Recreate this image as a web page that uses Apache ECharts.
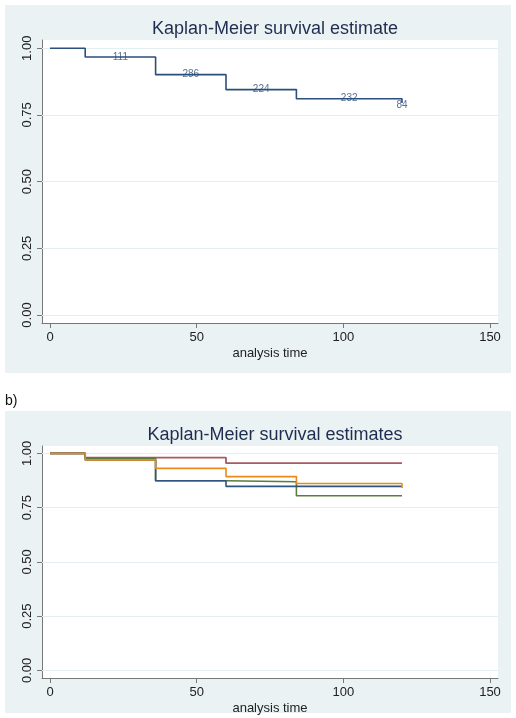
<!DOCTYPE html>
<html><head><meta charset="utf-8">
<script src="https://cdn.jsdelivr.net/npm/echarts@6/dist/echarts.min.js"></script>
<style>html,body{margin:0;padding:0;background:#fff}#c{width:516px;height:718px}</style>
</head><body><div id="c"></div>
<script>
// ---- data ----
const times = [0, 12, 36, 60, 84, 120];
const survAll = [1, 0.9675, 0.901, 0.845, 0.811, 0.795];
const atRiskTimes = [24, 48, 72, 102, 120];
const atRiskPos = [0.9675, 0.901, 0.845, 0.811, 0.788];
const atRiskLabels = ['111', '286', '224', '232', '84'];
const survBlue = [1, 0.97, 0.874, 0.848, 0.848, 0.848];
const survRed = [1, 0.98, 0.98, 0.955, 0.955, 0.955];
const survGreen = [1, 0.978, 0.874, 0.869, 0.805, 0.805];
const survOrange = [1, 0.97, 0.931, 0.893, 0.861, 0.84];
const xTicks = [0, 50, 100, 150];
const yTicks = [0, 0.25, 0.5, 0.75, 1];
const titleA = 'Kaplan-Meier survival estimate';
const titleB = 'Kaplan-Meier survival estimates';
const xName = 'analysis time';
const panelLabel = 'b)';

const FONT = 'Liberation Sans, Arial, Helvetica, sans-serif';
const BG = '#eaf2f3';
const pts = (ys) => times.map((t, i) => [t, ys[i]]);

function xAx(gi) {
  return {
    gridIndex: gi, type: 'value', min: -2.73, max: 152.73,
    name: xName, nameLocation: 'middle', nameGap: 24,
    nameTextStyle: {fontFamily: FONT, fontSize: 13, color: '#222'},
    axisLine: {show: true, onZero: false, lineStyle: {color: '#777', width: 1}},
    axisTick: {show: true, length: 5, customValues: xTicks, lineStyle: {color: '#777'}},
    axisLabel: {customValues: xTicks, margin: 8, fontFamily: FONT, fontSize: 13, color: '#222'},
    splitLine: {show: false}
  };
}
function yAx(gi, mn, mx) {
  return {
    gridIndex: gi, type: 'value', min: mn, max: mx,
    axisLine: {show: true, onZero: false, lineStyle: {color: '#777', width: 1}},
    axisTick: {show: true, length: 5, customValues: yTicks, lineStyle: {color: '#777'}},
    axisLabel: {customValues: yTicks, rotate: 90, margin: 8, fontFamily: FONT, fontSize: 13, color: '#222',
      formatter: v => v.toFixed(2)},
    splitLine: {show: false}
  };
}
function gridLines(xi, yi) {
  return {
    type: 'line', xAxisIndex: xi, yAxisIndex: yi, data: [], silent: true, z: 1,
    markLine: {silent: true, z: 1, symbol: 'none', label: {show: false},
      lineStyle: {color: '#e3eef0', width: 1.2, type: 'solid'},
      data: yTicks.map(v => ({yAxis: v}))}
  };
}
function km(xi, yi, ys, color, w) {
  return {type: 'line', xAxisIndex: xi, yAxisIndex: yi, step: 'end', data: pts(ys),
    showSymbol: false, symbol: 'none', lineStyle: {color: color, width: w || 1.6}, z: 6};
}

const chart = echarts.init(document.getElementById('c'), null, {renderer: 'canvas'});
chart.setOption({
  animation: false,
  backgroundColor: '#fff',
  graphic: [
    {type: 'rect', shape: {x: 5, y: 5, width: 506, height: 368}, style: {fill: BG}, z: -10},
    {type: 'rect', shape: {x: 5, y: 411, width: 506, height: 302}, style: {fill: BG}, z: -10},
    {type: 'text', left: 5, top: 394, style: {text: panelLabel, font: '14px ' + FONT, fill: '#111'}}
  ],
  title: [
    {text: titleA, left: 270, top: 15, textAlign: 'center',
      textStyle: {fontFamily: FONT, fontSize: 18, fontWeight: 'normal', color: '#1e2d4f'}},
    {text: titleB, left: 270, top: 421, textAlign: 'center',
      textStyle: {fontFamily: FONT, fontSize: 18, fontWeight: 'normal', color: '#1e2d4f'}}
  ],
  grid: [
    {left: 42, top: 40, width: 456, height: 283, show: true, backgroundColor: '#fff', borderWidth: 0},
    {left: 42, top: 446, width: 456, height: 232, show: true, backgroundColor: '#fff', borderWidth: 0}
  ],
  xAxis: [xAx(0), xAx(1)],
  yAxis: [yAx(0, -0.03, 1.031), yAx(1, -0.035, 1.034)],
  series: [
    gridLines(0, 0),
    gridLines(1, 1),
    km(0, 0, survAll, '#2b4f7c', 1.6),
    {type: 'scatter', xAxisIndex: 0, yAxisIndex: 0, symbolSize: 0, silent: true, z: 7,
      data: atRiskTimes.map((t, i) => [t, atRiskPos[i], atRiskLabels[i]]),
      label: {show: true, position: 'inside', formatter: p => p.value[2],
        fontFamily: FONT, fontSize: 10, color: '#2b4f7c'}},
    km(1, 1, survRed, '#a85a62', 1.8),
    km(1, 1, survGreen, '#5c7c3c', 1.6),
    km(1, 1, survBlue, '#2f5482', 1.6),
    km(1, 1, survOrange, '#ea8a1a', 1.6)
  ]
});
</script></body></html>
